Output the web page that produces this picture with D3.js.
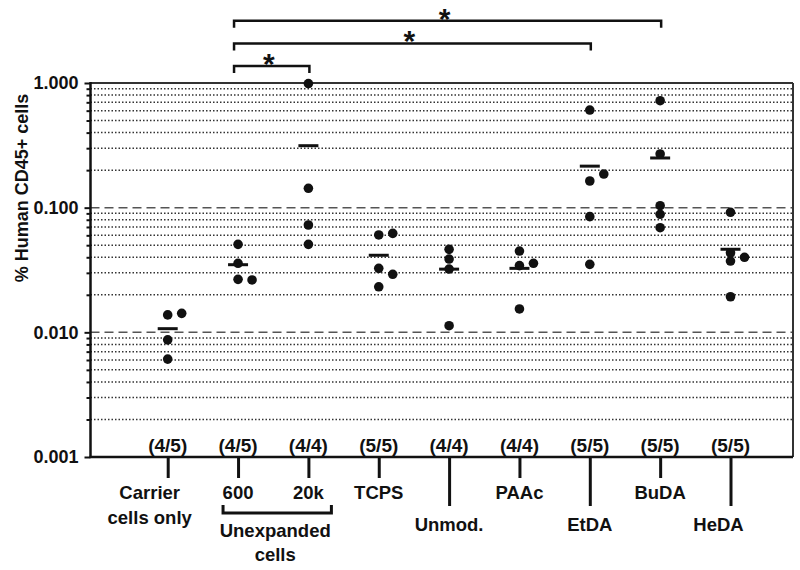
<!DOCTYPE html>
<html><head><meta charset="utf-8">
<script src="https://cdn.jsdelivr.net/npm/d3@7"></script>
<style>
body{margin:0;background:#fff;}
svg{display:block;}
text{font-family:"Liberation Sans", Arial, Helvetica, sans-serif;font-weight:bold;fill:#111;}
</style>
</head><body>
<svg id="chart" width="800" height="570"></svg>
<script>
// ---------------- data ----------------
const groups = ["Carrier", "600", "20k", "TCPS", "Unmod.", "PAAc", "EtDA", "BuDA", "HeDA"];
const groupLabels = [["Carrier", "cells only"], ["600"], ["20k"], ["TCPS"], ["Unmod."], ["PAAc"], ["EtDA"], ["BuDA"], ["HeDA"]];
const engraftment = ["(4/5)", "(4/5)", "(4/4)", "(5/5)", "(4/4)", "(4/4)", "(5/5)", "(5/5)", "(5/5)"];
const carrierOnly   = [0.0061, 0.0087, 0.0138, 0.0142];
const unexpanded600 = [0.0508, 0.0358, 0.0266, 0.0263];
const unexpanded20k = [0.99, 0.143, 0.0726, 0.0508];
const tcps          = [0.0604, 0.0326, 0.0232, 0.0622, 0.0292];
const unmodified    = [0.0463, 0.0387, 0.0322, 0.0113];
const paac          = [0.0449, 0.0343, 0.0154, 0.0358];
const etda          = [0.607, 0.1637, 0.0847, 0.0351, 0.186];
const buda          = [0.721, 0.2695, 0.1037, 0.0885, 0.0691];
const heda          = [0.0918, 0.0373, 0.0193, 0.0435, 0.0400];
const yTicks = [1, 0.1, 0.01, 0.001];
const yTickLabels = ["1.000", "0.100", "0.010", "0.001"];
const dashedRefs = [0.1, 0.01];
const comparisons = [["600", "20k"], ["600", "EtDA"], ["600", "BuDA"]];
const significance = ["*", "*", "*"];
const yTitle = "% Human CD45+ cells";
const subGroupTitle = ["Unexpanded", "cells"];

const series = [carrierOnly, unexpanded600, unexpanded20k, tcps, unmodified, paac, etda, buda, heda];

// ---------------- layout ----------------
const L = 90.5, R = 793, T = 83, B = 457;
const longTicks = new Set(["Unmod.", "EtDA", "HeDA"]);
const labelShift = {"Carrier": -18, "HeDA": -12};
const svg = d3.select("#chart");

const y = d3.scaleLog().domain([0.001, 1]).range([B, T]);
const x = d3.scalePoint().domain(groups).range([167.7, 730.5]);

const allTicks = y.ticks();
const minorTicks = allTicks.filter(v => !yTicks.some(m => Math.abs(Math.log10(v) - Math.log10(m)) < 1e-6));

// gridlines
svg.append("g").selectAll("line").data(minorTicks).join("line")
  .attr("x1", L).attr("x2", R).attr("y1", d => y(d)).attr("y2", d => y(d))
  .attr("stroke", "#333").attr("stroke-width", 1.5).attr("stroke-dasharray", "1.5,2");
svg.append("g").selectAll("line").data(dashedRefs).join("line")
  .attr("x1", L).attr("x2", R).attr("y1", d => y(d)).attr("y2", d => y(d))
  .attr("stroke", "#555").attr("stroke-width", 1.5).attr("stroke-dasharray", "9,5");

// frame
svg.append("line").attr("x1", L).attr("x2", R).attr("y1", T).attr("y2", T).attr("stroke", "#333").attr("stroke-width", 2);
svg.append("line").attr("x1", R).attr("x2", R).attr("y1", T).attr("y2", B).attr("stroke", "#333").attr("stroke-width", 2);

// y axis
const yMinorAxis = svg.append("g").attr("transform", `translate(${L},0)`)
  .call(d3.axisLeft(y).tickValues(minorTicks).tickSize(4).tickFormat(""));
yMinorAxis.select(".domain").remove();
yMinorAxis.selectAll(".tick line").attr("stroke", "#111").attr("stroke-width", 2);

const yAxis = svg.append("g").attr("transform", `translate(${L},0)`)
  .call(d3.axisLeft(y).tickValues(yTicks).tickFormat((d, i) => yTickLabels[i]).tickSize(6).tickPadding(6));
yAxis.select(".domain").remove();
yAxis.selectAll(".tick line").attr("stroke", "#111").attr("stroke-width", 2);
yAxis.selectAll(".tick text").attr("font-size", 18).attr("fill", "#111")
  .style("font-family", '"Liberation Sans", Arial, sans-serif').style("font-weight", "bold");

svg.append("line").attr("x1", L).attr("x2", L).attr("y1", T - 1).attr("y2", B + 1).attr("stroke", "#111").attr("stroke-width", 2.5);

// x axis
const xAxis = svg.append("g").attr("transform", `translate(0,${B})`)
  .call(d3.axisBottom(x).tickSize(21).tickFormat(""));
xAxis.select(".domain").remove();
xAxis.selectAll(".tick line").attr("stroke", "#111").attr("stroke-width", 3)
  .attr("y2", d => longTicks.has(d) ? 49 : 21);
svg.append("line").attr("x1", L - 1).attr("x2", R).attr("y1", B).attr("y2", B).attr("stroke", "#111").attr("stroke-width", 2.5);

// category labels
groups.forEach((g, i) => {
  const base = longTicks.has(g) ? 531 : 499;
  const t = svg.append("text").attr("text-anchor", "middle").attr("font-size", 18.5)
    .attr("x", x(g) + (labelShift[g] || 0)).attr("y", base);
  groupLabels[i].forEach((line, j) => {
    t.append("tspan").attr("x", x(g) + (labelShift[g] || 0)).attr("y", base + j * 25).text(line);
  });
});

// Unexpanded bracket
const bx1 = x("600") - 15, bx2 = x("20k") + 23;
svg.append("path").attr("d", `M${bx1},505 V513 H${bx2} V505`).attr("fill", "none")
  .attr("stroke", "#111").attr("stroke-width", 3);
const bmid = (x("600") + x("20k")) / 2;
svg.append("text").attr("text-anchor", "middle").attr("font-size", 18.5).attr("x", bmid + 2).attr("y", 537).text(subGroupTitle[0]);
svg.append("text").attr("text-anchor", "middle").attr("font-size", 18.5).attr("x", bmid + 2).attr("y", 561).text(subGroupTitle[1]);

// engraftment counts
svg.append("g").selectAll("text").data(groups).join("text")
  .attr("text-anchor", "middle").attr("font-size", 19)
  .attr("x", d => x(d)).attr("y", 452).text((d, i) => engraftment[i]);

// points with dodge
const step = 14, minDist = 8;
const pts = [];
series.forEach((vals, gi) => {
  const placed = [];
  vals.forEach(v => {
    const py = y(v);
    for (const off of [0, step, step / 2, -step]) {
      if (placed.every(p => Math.hypot(p.off - off, p.py - py) >= minDist)) {
        placed.push({off, py});
        pts.push({g: groups[gi], v, off});
        break;
      }
    }
  });
});
svg.append("g").selectAll("circle").data(pts).join("circle")
  .attr("cx", d => x(d.g) + d.off).attr("cy", d => y(d.v)).attr("r", 4.8).attr("fill", "#111");

// mean lines
svg.append("g").selectAll("line").data(groups).join("line")
  .attr("x1", d => x(d) - 10).attr("x2", d => x(d) + 10)
  .attr("y1", (d, i) => y(d3.mean(series[i]))).attr("y2", (d, i) => y(d3.mean(series[i])))
  .attr("stroke", "#111").attr("stroke-width", 3);

// significance brackets
comparisons.forEach((c, i) => {
  const yb = 66 - i * 22.6;
  const xa = x(c[0]) - 4, xb = x(c[1]) + 1;
  svg.append("path").attr("d", `M${xa},${yb + 7} V${yb} H${xb} V${yb + 7}`).attr("fill", "none")
    .attr("stroke", "#111").attr("stroke-width", 2.5);
  svg.append("text").attr("text-anchor", "middle").attr("font-size", 30)
    .attr("x", (xa + xb) / 2 - 3).attr("y", yb + 8).text(significance[i]);
});

// y title
svg.append("text").attr("text-anchor", "middle").attr("font-size", 18)
  .attr("transform", "translate(28,188) rotate(-90)").text(yTitle);
</script>
</body></html>
